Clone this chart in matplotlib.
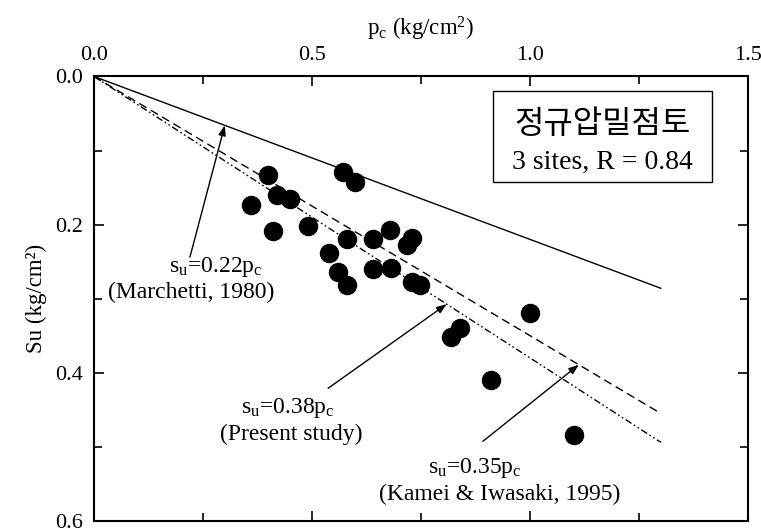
import matplotlib
matplotlib.use("Agg")
import matplotlib.pyplot as plt
from matplotlib.patches import Rectangle
from matplotlib.ticker import MultipleLocator, FormatStrFormatter

plt.rcParams["font.family"] = ["Liberation Serif", "DejaVu Serif"]
plt.rcParams["mathtext.fontset"] = "custom"
plt.rcParams["mathtext.rm"] = "Liberation Serif"
plt.rcParams["mathtext.it"] = "Liberation Serif:italic"

# measured points (pc, su) in kg/cm2
pc = [0.400, 0.570, 0.599, 0.419, 0.450, 0.360, 0.410, 0.490, 0.580, 0.641,
      0.679, 0.729, 0.717, 0.540, 0.560, 0.580, 0.641, 0.681, 0.729, 0.748,
      1.000, 0.839, 0.818, 0.911, 1.101]
su = [0.133, 0.129, 0.142, 0.160, 0.165, 0.174, 0.209, 0.202, 0.219, 0.219,
      0.208, 0.218, 0.228, 0.239, 0.264, 0.282, 0.260, 0.259, 0.277, 0.282,
      0.319, 0.340, 0.352, 0.410, 0.484]

# trend lines su = k * pc
line_x = [0.0, 1.3]
k_marchetti = 0.22
k_kamei = 0.35
k_present = 0.38

fig = plt.figure(figsize=(7.61, 5.32), dpi=100)
ax = fig.add_axes([0.1235, 0.021, 0.8594, 0.8353])

ax.plot(line_x, [k_marchetti * x for x in line_x], color="black", lw=1.0)
ax.plot(line_x, [k_kamei * x for x in line_x], color="black", lw=1.0,
        dashes=(6, 3.5))
ax.plot(line_x, [k_present * x for x in line_x], color="black", lw=1.0,
        dashes=(5, 2, 1.2, 2, 1.2, 2))

ax.plot(pc, su, "o", color="black", ms=13, zorder=3)

ax.set_xlim(0, 1.5)
ax.set_ylim(0.6, 0.0)
ax.xaxis.tick_top()
ax.xaxis.set_label_position("top")
ax.xaxis.set_major_locator(MultipleLocator(0.5))
ax.xaxis.set_minor_locator(MultipleLocator(0.25))
ax.yaxis.set_major_locator(MultipleLocator(0.2))
ax.yaxis.set_minor_locator(MultipleLocator(0.1))
ax.xaxis.set_major_formatter(FormatStrFormatter("%.1f"))
ax.yaxis.set_major_formatter(FormatStrFormatter("%.1f"))
ax.tick_params(which="both", direction="in", top=True, bottom=True,
               left=True, right=True, labelsize=16, width=1.2)
ax.tick_params(which="major", length=7, pad=8)
ax.tick_params(which="minor", length=6)
for s in ax.spines.values():
    s.set_linewidth(1.5)

ax.set_xlabel(r"$\mathrm{p_c}$ (kg/cm$^2$)", fontsize=16.5, labelpad=8)
ax.set_ylabel("Su (kg/cm²)", fontsize=16.5, labelpad=6)

arrow = dict(arrowstyle="-|>,head_length=0.6,head_width=0.22",
             color="black", lw=1.0, shrinkA=0, shrinkB=0)

# Marchetti
ax.annotate("", xy=(0.30, k_marchetti * 0.30), xytext=(0.220, 0.244),
            arrowprops=arrow)
ax.text(0.28, 0.257, r"s$_\mathrm{u}$=0.22p$_\mathrm{c}$", fontsize=17,
        ha="center", va="center")
ax.text(0.222, 0.291, "(Marchetti, 1980)", fontsize=17,
        ha="center", va="center")

# Present study
ax.annotate("", xy=(0.809, k_present * 0.809), xytext=(0.537, 0.421),
            arrowprops=arrow)
ax.text(0.445, 0.448, r"s$_\mathrm{u}$=0.38p$_\mathrm{c}$", fontsize=17,
        ha="center", va="center")
ax.text(0.452, 0.483, "(Present study)", fontsize=17,
        ha="center", va="center")

# Kamei & Iwasaki
ax.annotate("", xy=(1.112, k_kamei * 1.112), xytext=(0.892, 0.4926),
            arrowprops=arrow)
ax.text(0.874, 0.529, r"s$_\mathrm{u}$=0.35p$_\mathrm{c}$", fontsize=17,
        ha="center", va="center")
ax.text(0.931, 0.565, "(Kamei & Iwasaki, 1995)", fontsize=17,
        ha="center", va="center")

# info box
ax.add_patch(Rectangle((0.915, 0.019), 0.502, 0.123, fill=False,
                       edgecolor="black", lw=1.0, zorder=4))
ax.text(1.166, 0.064, "정규압밀점토", fontsize=23, ha="center", va="center",
        family=["Noto Sans CJK KR", "DejaVu Sans"])
ax.text(1.166, 0.116, "3 sites, R = 0.84", fontsize=20,
        ha="center", va="center")

fig.savefig("out.png", dpi=100)
